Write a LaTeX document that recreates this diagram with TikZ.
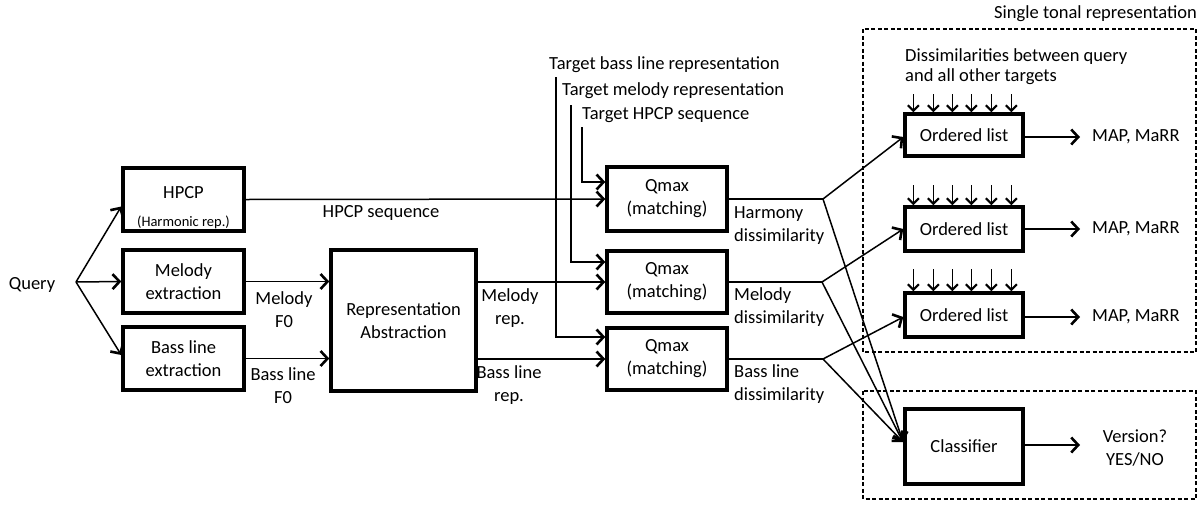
\documentclass[tikz,border=0pt]{standalone}
\usepackage{fontspec}
\setmainfont{Carlito}
\usetikzlibrary{arrows.meta}
\begin{document}
\begin{tikzpicture}[x=1pt,y=-1pt,
  every node/.style={font=\fontsize{18.5}{23}\selectfont},
  box/.style={draw, line width=3.4pt, align=center, inner sep=0pt},
  conn/.style={line width=1.5pt},
  arr/.style={conn, -{Straight Barb[length=7pt,width=15pt,line width=2.6pt]}},
  tick/.style={line width=1.5pt, -{Straight Barb[length=5.5pt,width=11pt,line width=2.2pt]}},
  lab/.style={align=center, inner sep=0pt},
  llab/.style={align=left, inner sep=0pt, anchor=west},
  dbox/.style={draw, line width=1.3pt, dash pattern=on 4pt off 2.5pt}
]
\useasboundingbox (0,0) rectangle (1200,504);

% left column
\node[lab] (query) at (32,285) {Query};
\coordinate (apex) at (76,282);
\node[box, minimum width=121pt, minimum height=63pt] (hpcp) at (183.5,199.5) {};
\node[lab] (hpcpt) at (183.5,193) {HPCP};
\node[lab, font=\fontsize{14.5}{16}\selectfont] (hpcps) at (183.5,222) {(Harmonic rep.)};
\node[box, minimum width=121pt, minimum height=63pt] (mel) at (183.5,281.5) {Melody\\extraction};
\node[box, minimum width=121pt, minimum height=63pt] (bass) at (183.5,358.5) {Bass line\\extraction};
\node[box, minimum width=145pt, minimum height=141pt] (ra) at (403.5,320.5) {Representation\\Abstraction};

\draw[arr] (apex) -- ([yshift=-7pt]hpcp.west);
\draw[arr] (apex) -- (mel.west);
\draw[arr] (apex) -- ([yshift=3.5pt]bass.west);

\draw[arr] (mel.east) -- (ra.west |- mel.east);
\draw[arr] (bass.east) -- (ra.west |- bass.east);
\node[lab] (melf0) at (284,310) {Melody\\F0};
\node[lab] (bassf0) at (283,386) {Bass line\\F0};

% Qmax boxes
\node[box, minimum width=120pt, minimum height=64pt] (q1) at (667,199) {Qmax\\(matching)};
\node[box, minimum width=120pt, minimum height=62pt] (q2) at (667,282) {Qmax\\(matching)};
\node[box, minimum width=120pt, minimum height=62pt] (q3) at (667,359) {Qmax\\(matching)};

\draw[arr] (hpcp.east) -- (q1.west);
\node[lab] (hseq) at (381,213) {HPCP sequence};
\draw[arr] (ra.east |- q2.west) -- (q2.west);
\draw[arr] (ra.east |- q3.west) -- (q3.west);
\node[lab] (melrep) at (510,308) {Melody\\rep.};
\node[lab] (bassrep) at (509,385) {Bass line\\rep.};

% target inputs
\node[llab] (tbass) at (549,65) {Target bass line representation};
\node[llab] (tmel) at (562,91) {Target melody representation};
\node[llab] (thpcp) at (582,115) {Target HPCP sequence};
\coordinate (tbtop) at (556,77);
\coordinate (tmtop) at (571,105);
\coordinate (thtop) at (582,127);
\draw[arr] (tbtop) |- ([yshift=22pt]q3.west);
\draw[arr] (tmtop) |- ([yshift=20pt]q2.west);
\draw[arr] (thtop) |- ([yshift=17pt]q1.west);

% dissimilarity labels
\node[llab] (hdis) at (734,226) {Harmony\\dissimilarity};
\node[llab] (mdis) at (734,307.5) {Melody\\dissimilarity};
\node[llab] (bdis) at (734,384) {Bass line\\dissimilarity};

% junctions
\coordinate (j1) at (823,199);
\coordinate (j2) at (822,282);
\coordinate (j3) at (823,359);
\draw[conn] (q1.east) -- (j1);
\draw[conn] (q2.east) -- (j2);
\draw[conn] (q3.east) -- (j3);

% right side
\draw[dbox] (863,29) rectangle (1196,352);
\draw[dbox] (863,391) rectangle (1196,499);
\node[inner sep=0pt, anchor=east] (single) at (1197,14) {Single tonal representation};
\node[llab, font=\fontsize{18.5}{20}\selectfont] (dissall) at (905,67) {Dissimilarities between query\\and all other targets};

\node[box, minimum width=118pt, minimum height=42pt] (ol1) at (964,135) {Ordered list};
\node[box, minimum width=118pt, minimum height=44pt] (ol2) at (964,229) {Ordered list};
\node[box, minimum width=118pt, minimum height=44pt] (ol3) at (964,315) {Ordered list};
\node[box, minimum width=118pt, minimum height=75pt] (cls) at (964,446.5) {Classifier};

\foreach \o/\len in {ol1/18,ol2/20,ol3/22}{
  \foreach \dx in {10,30,49,68,88,108}{
    \draw[tick] ([xshift=\dx pt, yshift=\len pt]\o.north west) -- ([xshift=\dx pt]\o.north west);
  }
}

\draw[arr] (j1) -- ([yshift=-2pt]ol1.west);
\draw[arr] (j2) -- (ol2.west);
\draw[arr] (j3) -- ([yshift=-2pt]ol3.west);
\coordinate (ctip) at (903,442);
\draw[arr] (j1) -- (ctip);
\draw[arr] (j2) -- (ctip);
\draw[arr] (j3) -- (ctip);

\coordinate (m1) at (1080,137);
\coordinate (m2) at (1080,229);
\coordinate (m3) at (1080,317);
\draw[arr] (ol1.east |- m1) -- (m1);
\draw[arr] (ol2.east |- m2) -- (m2);
\draw[arr] (ol3.east |- m3) -- (m3);
\node[llab] (map1) at (1092,137) {MAP, MaRR};
\node[llab] (map2) at (1092,229) {MAP, MaRR};
\node[llab] (map3) at (1092,317) {MAP, MaRR};

\coordinate (vend) at (1080,445);
\draw[arr] (cls.east |- vend) -- (vend);
\node[lab] (ver) at (1135,448) {Version?\\YES/NO};
\end{tikzpicture}
\end{document}
